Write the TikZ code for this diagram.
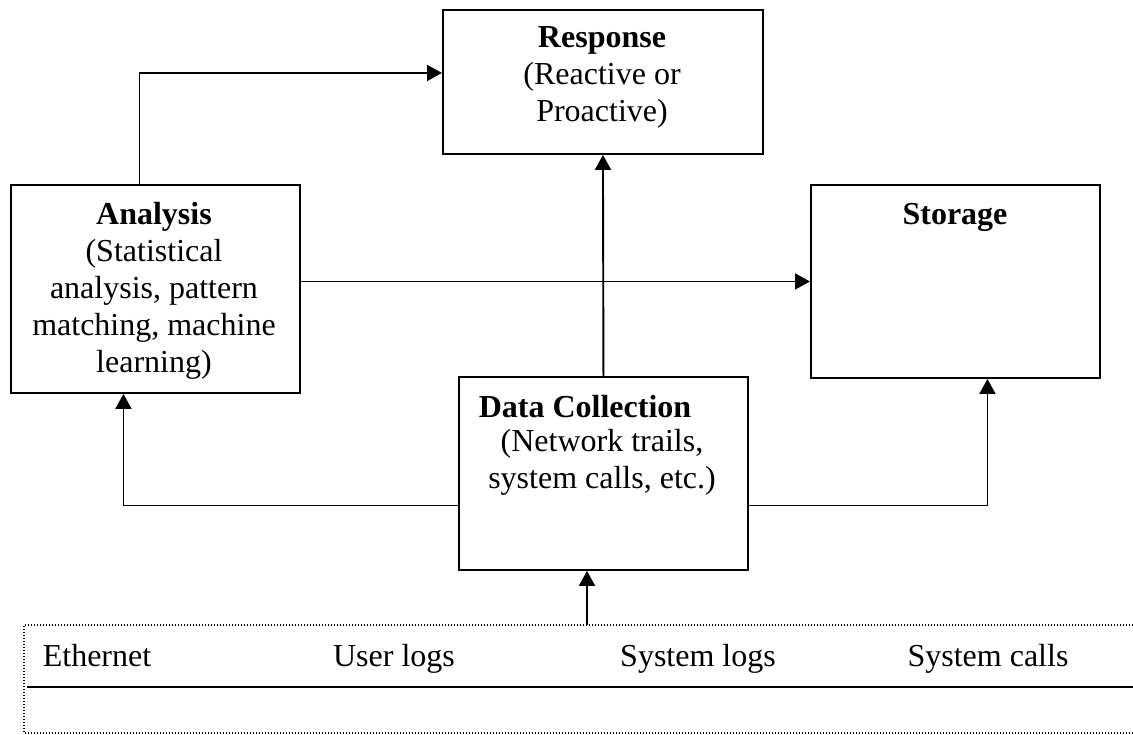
\documentclass[tikz,border=0pt]{standalone}
\usepackage{fontspec}
\setmainfont{Liberation Serif}
\usetikzlibrary{arrows.meta,positioning}

\tikzset{
  blk/.style={draw, line width=1.9pt, inner sep=0pt, anchor=north west},
  lbl/.style={font=\fontsize{32}{37}\selectfont, align=center, inner sep=0pt},
  flow/.style={line width=1.9pt, -{Triangle[length=15pt,width=16pt]}},
  dots/.style={line width=1.3pt, dash pattern=on 1.4pt off 1.6pt},
}

\begin{document}
\begin{tikzpicture}[x=1pt,y=-1pt]
        \useasboundingbox (0,0) rectangle (1133,734);
        % boxes
        \node[blk, minimum width=320pt, minimum height=144pt] (resp) at (442,9) {};
        \node[blk, minimum width=289pt, minimum height=208pt] (ana) at (10,184) {};
        \node[blk, minimum width=289pt, minimum height=193pt] (sto) at (810,184) {};
        \node[blk, minimum width=289pt, minimum height=193pt] (dc) at (458,376) {};
        % box texts
        \node[lbl] (resptxt) at (602,77) {\textbf{Response}\\(Reactive or\\Proactive)};
        \node[lbl] (anatxt) at (154,291) {\textbf{Analysis}\\(Statistical\\analysis, pattern\\matching, machine\\learning)};
        \node[lbl] (stotxt) at (955,217) {\textbf{Storage}};
        \node[lbl] (dctitle) at (585,407) {\textbf{Data Collection}};
        \node[lbl] (dctxt) at (602,462) {(Network trails,\\system calls, etc.)};
        % sources
        \draw[dots] (1133,625) -- (24,625) -- (24,733) -- (1133,733);
        \draw[line width=1.9pt] (27,687) -- (1133,687);
        \foreach \nm/\x/\t in {eth/97/Ethernet, ulog/394/User logs, slog/698/System logs, scall/988/System calls}
            \node[lbl, anchor=base] (\nm) at (\x,666) {\t};
        \coordinate (src) at (587,625);
        % connectors
        \draw[flow] ([xshift=-16pt]ana.north) |- ([yshift=9pt]resp.west);
        \draw[flow] (dc.north) -- (resp.south);
        \draw[flow] (ana.east |- sto.west) -- (sto.west);
        \draw[flow] ([yshift=-32pt]dc.west) -| ([xshift=-32pt]ana.south);
        \draw[flow] ([yshift=-32pt]dc.east) -| ([xshift=32pt]sto.south);
        \draw[flow] (src) -- (src |- dc.south);
    \end{tikzpicture}
\end{document}
